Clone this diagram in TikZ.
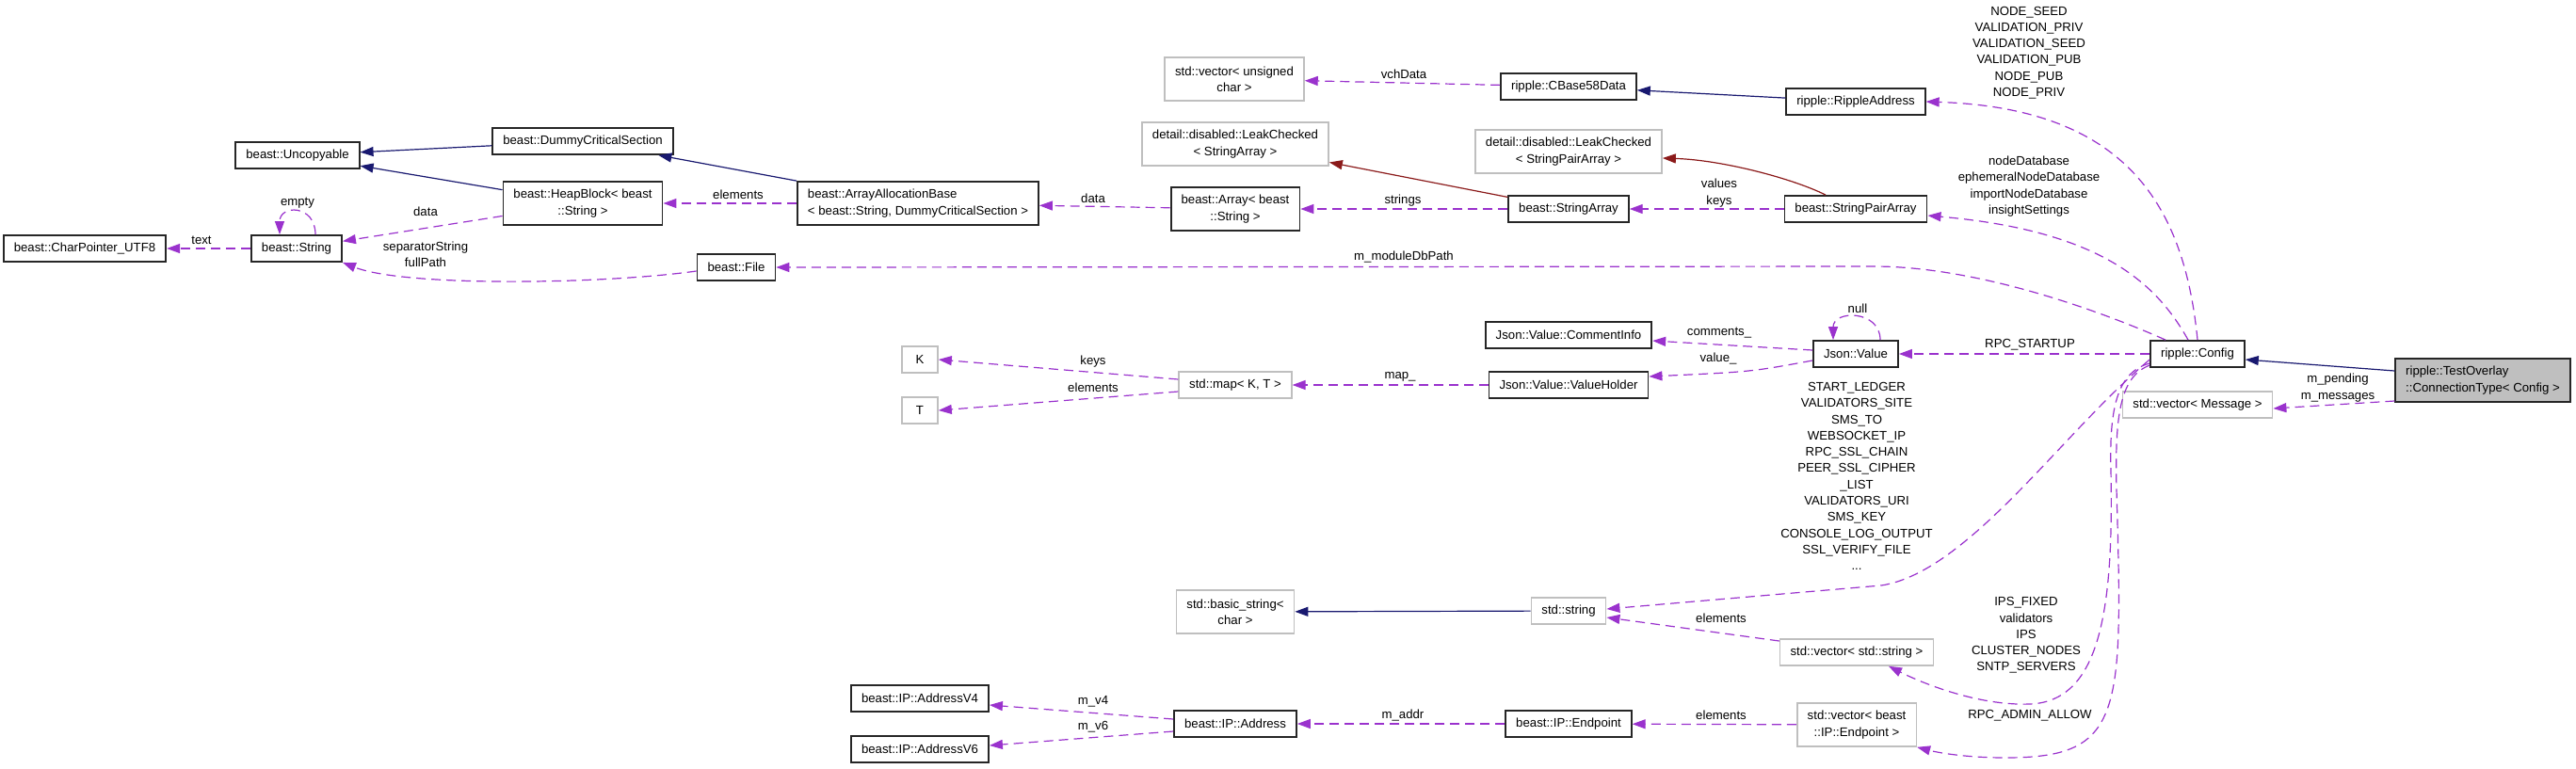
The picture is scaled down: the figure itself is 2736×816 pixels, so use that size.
\documentclass[tikz,border=0pt]{standalone}
\usepackage{fontspec}
\setmainfont{Liberation Sans}
\usetikzlibrary{arrows.meta}
\definecolor{usedby}{HTML}{9A32CD}
\definecolor{inherit}{HTML}{191970}
\definecolor{tmpl}{HTML}{8B1A1A}
\definecolor{extern}{HTML}{BFBFBF}
\newcommand{\dgfont}{\fontsize{6.6}{8.65}\selectfont}

\begin{document}
\begin{tikzpicture}[x=0.5pt,y=-0.5pt,
  cls/.style={draw=black!85,line width=0.9pt,fill=white,font=\dgfont,align=center,
              inner xsep=5.5pt,inner ysep=2pt,minimum height=14pt},
  ext/.style={cls,draw=extern,line width=0.8pt},
  two/.style={minimum height=23pt},
  lbl/.style={font=\dgfont,align=center,inner sep=0pt},
  dep/.style={draw=usedby,line width=0.6pt,dash pattern=on 5pt off 3pt,-{Triangle[length=7pt,width=5pt]}},
  inh/.style={draw=inherit,line width=0.6pt,-{Triangle[length=7pt,width=5pt]}},
  tpl/.style={draw=tmpl,line width=0.6pt,-{Triangle[length=7pt,width=5pt]}}]
 \useasboundingbox (0,0) rectangle (2736,816);
 % classes
 \node[cls] (uncopy) at (316,165) {beast::Uncopyable};
 \node[cls] (dcs) at (619,150) {beast::DummyCriticalSection};
 \node[cls,two] (heap) at (619,216) {beast::HeapBlock< beast\\::String >};
 \node[cls,two,align=left] (aab) at (975,216) {beast::ArrayAllocationBase\\< beast::String, DummyCriticalSection >};
 \node[cls] (cptr) at (90,264) {beast::CharPointer\_UTF8};
 \node[cls] (bstr) at (315,264) {beast::String};
 \node[cls] (bfile) at (782,284) {beast::File};
 \node[ext,minimum width=19pt] (keyk) at (977,382) {K};
 \node[ext,minimum width=19pt] (valt) at (977,436) {T};
 \node[cls] (ipv4) at (977,742) {beast::IP::AddressV4};
 \node[cls] (ipv6) at (977,796) {beast::IP::AddressV6};
 \node[ext,two] (vuchar) at (1311,84) {std::vector< unsigned\\char >};
 \node[ext,two] (lcsa) at (1312,153) {detail::disabled::LeakChecked\\< StringArray >};
 \node[cls,two] (barr) at (1312,222) {beast::Array< beast\\::String >};
 \node[ext] (stdmap) at (1312,409) {std::map< K, T >};
 \node[ext,two] (bstring) at (1312,650) {std::basic\_string<\\char >};
 \node[cls] (ipaddr) at (1312,769) {beast::IP::Address};
 \node[cls] (cb58) at (1666,92) {ripple::CBase58Data};
 \node[ext,two] (lcspa) at (1666,161) {detail::disabled::LeakChecked\\< StringPairArray >};
 \node[cls] (sarr) at (1666,222) {beast::StringArray};
 \node[cls] (cinfo) at (1666,356) {Json::Value::CommentInfo};
 \node[cls] (vhold) at (1666,409) {Json::Value::ValueHolder};
 \node[ext] (sstr) at (1666,649) {std::string};
 \node[cls] (ipend) at (1666,769) {beast::IP::Endpoint};
 \node[cls] (raddr) at (1971,108) {ripple::RippleAddress};
 \node[cls] (sparr) at (1971,222) {beast::StringPairArray};
 \node[cls] (jval) at (1971,376) {Json::Value};
 \node[ext] (vsstr) at (1972,693) {std::vector< std::string >};
 \node[ext,two] (vep) at (1972,770) {std::vector< beast\\::IP::Endpoint >};
 \node[cls] (cfg) at (2334,376) {ripple::Config};
 \node[ext] (vmsg) at (2334,430) {std::vector< Message >};
 \node[cls,two,align=left,fill=extern] (tovl) at (2637,404) {ripple::TestOverlay\\::ConnectionType< Config >};
 % inheritance and template links
 \draw[inh] (dcs) -- (uncopy);
 \draw[inh] (heap) -- (uncopy);
 \draw[inh] (aab) -- (dcs);
 \draw[inh] (raddr) -- (cb58);
 \draw[inh] (sstr) -- (bstring);
 \draw[inh] ([yshift=5pt]tovl.west) -- ([yshift=-3pt]cfg.east);
 \draw[tpl] (sarr) -- (lcsa);
 \draw[tpl] ([xshift=-16pt]sparr.north) .. controls (1905,190) and (1830,170) .. ([yshift=-3.5pt]lcspa.east);
 % usage links
 \draw[dep] (aab) -- (heap);
 \draw[dep] (heap) -- (bstr);
 \draw[dep] ([xshift=10pt]bstr.north) .. controls +(0,-32) and +(0,-32) .. ([xshift=-9pt]bstr.north);
 \draw[dep] (bstr) -- (cptr);
 \draw[dep] ([yshift=-2pt]bfile.west) .. controls (640,302) and (430,305) .. (bstr.south east);
 \draw[dep] (barr) -- (aab);
 \draw[dep] (sarr) -- (barr);
 \draw[dep] (sparr) -- (sarr);
 \draw[dep] (cb58) -- (vuchar);
 \draw[dep] (cfg.north) .. controls (2320,220) and (2260,115) .. (raddr.east);
 \draw[dep] ([xshift=-5pt]cfg.north) .. controls (2290,300) and (2230,245) .. ([yshift=-3.5pt]sparr.east);
 \draw[dep] ([xshift=-17pt]cfg.north) .. controls (2230,330) and (2100,283) .. (1990,283) -- (bfile.east);
 \draw[dep] (cfg) -- (jval);
 \draw[dep] ([xshift=13pt]jval.north) .. controls +(0,-32) and +(0,-32) .. ([xshift=-12pt]jval.north);
 \draw[dep] ([yshift=2pt]jval.west) -- ([yshift=-3pt]cinfo.east);
 \draw[dep] ([yshift=-3.5pt]jval.west) .. controls (1860,395) .. ([yshift=4.5pt]vhold.east);
 \draw[dep] (vhold) -- (stdmap);
 \draw[dep] ([yshift=3pt]stdmap.west) -- (keyk.east);
 \draw[dep] ([yshift=-3.5pt]stdmap.west) -- (valt.east);
 \draw[dep] ([yshift=-3pt]cfg.west) .. controls (2190,460) and (2090,608) .. (1998,622) -- ([yshift=1pt]sstr.east);
 \draw[dep] ([yshift=6pt]vsstr.west) -- ([yshift=-3.5pt]sstr.east);
 \draw[dep] ([yshift=-5pt]cfg.west) .. controls (2250,395) and (2240,430) .. (2242,500)
   .. controls (2245,650) and (2230,745) .. (2156,748) .. controls (2100,750) and (2040,725) .. ([xshift=17pt]vsstr.south);
 \draw[dep] ([yshift=-6pt]cfg.west) .. controls (2252,400) and (2246,440) .. (2248,520)
   .. controls (2255,760) and (2255,805) .. (2130,805) .. controls (2090,805) and (2060,800) .. (vep.south east);
 \draw[dep] (vep) -- (ipend);
 \draw[dep] (ipend) -- (ipaddr);
 \draw[dep] ([yshift=2.5pt]ipaddr.west) -- ([yshift=-3.5pt]ipv4.east);
 \draw[dep] ([yshift=-4pt]ipaddr.west) -- ([yshift=2pt]ipv6.east);
 \draw[dep] ([yshift=-11pt]tovl.west) -- ([yshift=-2pt]vmsg.east);
 % link labels
 \node[lbl] (lempty) at (316,216) {empty};
 \node[lbl] (ltext) at (214,255) {text};
 \node[lbl] (ldata) at (452,225) {data};
 \node[lbl] (lsepfull) at (452,270) {separatorString\\fullPath};
 \node[lbl] (lelems) at (784,207) {elements};
 \node[lbl] (ldatab) at (1161,211) {data};
 \node[lbl] (lstrings) at (1490,213) {strings};
 \node[lbl] (lvalkeys) at (1826,205) {values\\keys};
 \node[lbl] (lvch) at (1491,79) {vchData};
 \node[lbl] (lnodeseed) at (2155,56) {NODE\_SEED\\VALIDATION\_PRIV\\VALIDATION\_SEED\\VALIDATION\_PUB\\NODE\_PUB\\NODE\_PRIV};
 \node[lbl] (lnodedb) at (2155,198) {nodeDatabase\\ephemeralNodeDatabase\\importNodeDatabase\\insightSettings};
 \node[lbl] (lmoddb) at (1491,273) {m\_moduleDbPath};
 \node[lbl] (lnull) at (1973,328) {null};
 \node[lbl] (lcomments) at (1826,354) {comments\_};
 \node[lbl] (lvalue) at (1825,381) {value\_};
 \node[lbl] (lrpcstart) at (2156,366) {RPC\_STARTUP};
 \node[lbl] (lmap) at (1487,400) {map\_};
 \node[lbl] (lkeys) at (1161,384) {keys};
 \node[lbl] (lelemt) at (1161,412) {elements};
 \node[lbl] (lstartledger) at (1972,506) {START\_LEDGER\\VALIDATORS\_SITE\\SMS\_TO\\WEBSOCKET\_IP\\RPC\_SSL\_CHAIN\\PEER\_SSL\_CIPHER\\\_LIST\\VALIDATORS\_URI\\SMS\_KEY\\CONSOLE\_LOG\_OUTPUT\\SSL\_VERIFY\_FILE\\...};
 \node[lbl] (lelemstr) at (1828,657) {elements};
 \node[lbl] (lipsfixed) at (2152,675) {IPS\_FIXED\\validators\\IPS\\CLUSTER\_NODES\\SNTP\_SERVERS};
 \node[lbl] (lrpcadmin) at (2156,760) {RPC\_ADMIN\_ALLOW};
 \node[lbl] (lelemep) at (1828,760) {elements};
 \node[lbl] (lmaddr) at (1490,760) {m\_addr};
 \node[lbl] (lmvfour) at (1161,745) {m\_v4};
 \node[lbl] (lmvsix) at (1161,772) {m\_v6};
 \node[lbl] (lpending) at (2483,412) {m\_pending\\m\_messages};
\end{tikzpicture}
\end{document}
